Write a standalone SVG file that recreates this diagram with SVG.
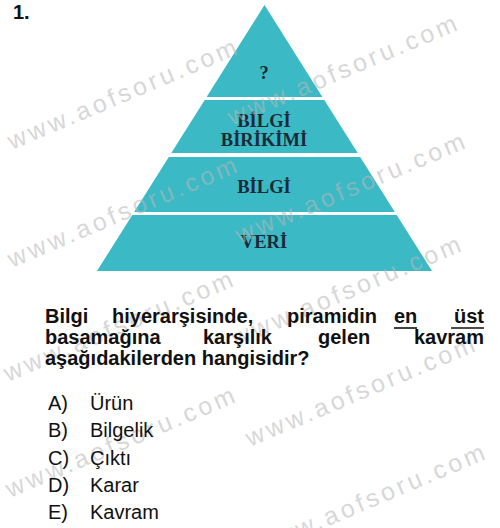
<svg xmlns="http://www.w3.org/2000/svg" width="500" height="528" viewBox="0 0 500 528">
<style>
.band{fill:#3bb9c5}
.pt{font-family:"Liberation Serif","DejaVu Serif",serif;font-weight:bold;font-size:18.5px;fill:#1b2a38;text-anchor:middle}
.q{font-family:"Liberation Sans",Arial,sans-serif;font-weight:bold;font-size:20px;fill:#111}
.o{font-family:"Liberation Sans",Arial,sans-serif;font-size:20px;fill:#111}
.wm{font-family:"Liberation Sans",Arial,sans-serif;font-size:25px;letter-spacing:3.5px;fill:#b8b8b8;opacity:0.55}
</style>
<rect width="500" height="528" fill="#fff"/>
<g id="pyramid">
<g id="level-top"><polygon class="band" points="264.5,5 322.4,97 206.6,97"/><text class="pt" x="264" y="79" font-size="20">?</text></g>
<g id="level-bilgi-birikimi"><polygon class="band" points="204.7,100 324.3,100 357.7,153 171.3,153"/><text class="pt" x="264" y="127">BİLGİ</text><text class="pt" x="264" y="146">BİRİKİMİ</text></g>
<g id="level-bilgi"><polygon class="band" points="168.8,157 360.2,157 394.8,212 134.2,212"/><text class="pt" x="264" y="193">BİLGİ</text></g>
<g id="level-veri"><polygon class="band" points="132.3,215 396.7,215 432,271 97,271"/><text class="pt" x="264" y="248">VERİ</text></g>
</g>
<g id="watermarks">
<text class="wm" transform="translate(12,150) rotate(-23)">www.aofsoru.com</text>
<text class="wm" transform="translate(232,126) rotate(-23)">www.aofsoru.com</text>
<text class="wm" transform="translate(12,268) rotate(-23)">www.aofsoru.com</text>
<text class="wm" transform="translate(240,244) rotate(-23)">www.aofsoru.com</text>
<text class="wm" transform="translate(8,382) rotate(-23)">www.aofsoru.com</text>
<text class="wm" transform="translate(236,347) rotate(-23)">www.aofsoru.com</text>
<text class="wm" transform="translate(10,498) rotate(-23)">www.aofsoru.com</text>
<text class="wm" transform="translate(250,447) rotate(-23)">www.aofsoru.com</text>
<text class="wm" transform="translate(260,555) rotate(-23)">www.aofsoru.com</text>
</g>
<g id="question">
<text class="q" x="13" y="19">1.</text>
<text class="q" x="45" y="323">Bilgi</text>
<text class="q" x="112" y="323">hiyerarşisinde,</text>
<text class="q" x="287" y="323">piramidin</text>
<text class="q" x="394" y="323">en</text>
<text class="q" x="484" y="323" text-anchor="end">üst</text>
<line x1="394" y1="328" x2="417" y2="328" stroke="#111" stroke-width="1.6"/>
<line x1="451" y1="328" x2="484" y2="328" stroke="#111" stroke-width="1.6"/>
<text class="q" x="45" y="344">basamağına</text>
<text class="q" x="203" y="344">karşılık</text>
<text class="q" x="318" y="344">gelen</text>
<text class="q" x="484" y="344" text-anchor="end">kavram</text>
<text class="q" x="45" y="365">aşağıdakilerden hangisidir?</text>
</g>
<g id="options">
<text class="o" x="48" y="410">A)</text><text class="o" x="90" y="410">Ürün</text>
<text class="o" x="48" y="437">B)</text><text class="o" x="90" y="437">Bilgelik</text>
<text class="o" x="48" y="465">C)</text><text class="o" x="90" y="465">Çıktı</text>
<text class="o" x="48" y="492">D)</text><text class="o" x="90" y="492">Karar</text>
<text class="o" x="48" y="519">E)</text><text class="o" x="90" y="519">Kavram</text>
</g>
</svg>
